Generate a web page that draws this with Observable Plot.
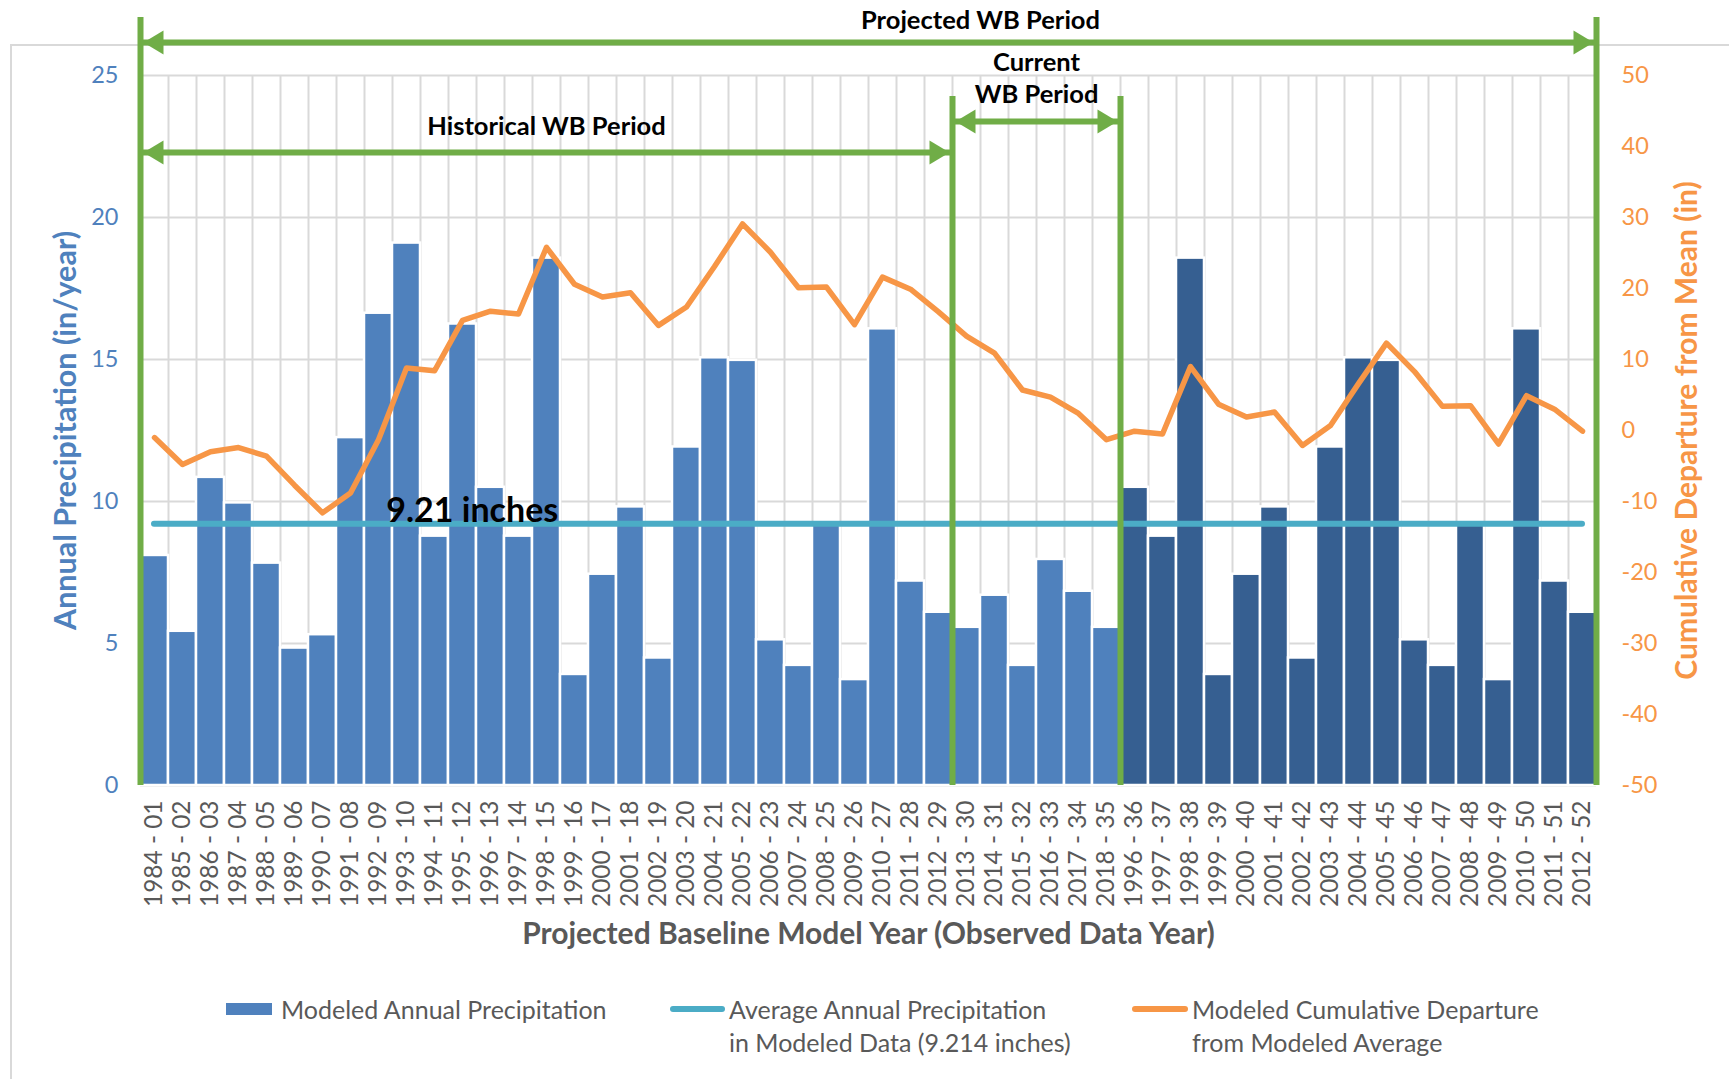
<!DOCTYPE html>
<html>
<head>
<meta charset="utf-8">
<script src="https://cdn.jsdelivr.net/npm/d3@7"></script>
<script src="https://cdn.jsdelivr.net/npm/@observablehq/plot@0.6"></script>
<style>
  body { margin: 0; background: #fff; font-family: Lato, sans-serif; }
  #wrap { position: relative; width: 1729px; height: 1079px; overflow: hidden; }
  #frame { position: absolute; left: 10px; top: 44px; width: 1900px; height: 1200px;
           border-left: 2px solid #d9d9d9; border-top: 2px solid #d9d9d9; }
  #chart { position: absolute; left: 0; top: 0; }
  .lg-text { position: absolute; font-size: 25px; line-height: 33px; color: #595959; white-space: pre; }
  .lg-sw { position: absolute; }
</style>
</head>
<body>
<div id="wrap">
  <div id="frame"></div>
  <div id="chart"></div>
  <div id="legend"></div>
</div>
<script>
// ---------------- data ----------------
const categories = [
  "1984 - 01","1985 - 02","1986 - 03","1987 - 04","1988 - 05","1989 - 06","1990 - 07","1991 - 08",
  "1992 - 09","1993 - 10","1994 - 11","1995 - 12","1996 - 13","1997 - 14","1998 - 15","1999 - 16",
  "2000 - 17","2001 - 18","2002 - 19","2003 - 20","2004 - 21","2005 - 22","2006 - 23","2007 - 24",
  "2008 - 25","2009 - 26","2010 - 27","2011 - 28","2012 - 29","2013 - 30","2014 - 31","2015 - 32",
  "2016 - 33","2017 - 34","2018 - 35","1996 - 36","1997 - 37","1998 - 38","1999 - 39","2000 - 40",
  "2001 - 41","2002 - 42","2003 - 43","2004 - 44","2005 - 45","2006 - 46","2007 - 47","2008 - 48",
  "2009 - 49","2010 - 50","2011 - 51","2012 - 52"
];

// Modeled annual precipitation (in/year)
const precip = [
  8.10, 5.43, 10.85, 9.95, 7.83, 4.84, 5.31, 12.25, 16.63, 19.10,
  8.78, 16.25, 10.50, 8.78, 18.57, 3.91, 7.44, 9.81, 4.49, 11.92,
  15.06, 14.97, 5.13, 4.23, 9.20, 3.73, 16.08, 7.20, 6.10,
  5.57, 6.70, 4.23, 7.96, 6.84, 5.57,
  10.50, 8.78, 18.57, 3.91, 7.44, 9.81, 4.49, 11.92, 15.06, 14.97,
  5.13, 4.23, 9.20, 3.73, 16.08, 7.20, 6.10
];

// Modeled cumulative departure from modeled average (in)
const departure = [
  -1.0, -4.8, -3.0, -2.4, -3.6, -7.7, -11.6, -8.8, -1.3, 8.8,
  8.4, 15.5, 16.8, 16.4, 25.8, 20.6, 18.8, 19.4, 14.8, 17.4,
  23.1, 29.1, 25.1, 20.1, 20.2, 14.9, 21.6, 19.9, 16.7, 13.3,
  10.9, 5.7, 4.7, 2.4, -1.3, -0.1, -0.5, 9.0, 3.7, 1.9,
  2.6, -2.1, 0.7, 6.6, 12.3, 8.3, 3.4, 3.5, -1.9, 4.9,
  3.0, -0.1
];

const avgPrecip = 9.214;

// Periods, in category index boundaries
const periodNames = ["Historical WB Period", "Current WB Period", "Projected WB Period"];
const periodStart = [0, 29, 0];
const periodEnd = [29, 35, 52];

const leftTicks = [0, 5, 10, 15, 20, 25];
const rightTicks = [-50, -40, -30, -20, -10, 0, 10, 20, 30, 40, 50];

const legendLabels = [
  "Modeled Annual Precipitation",
  "Average Annual Precipitation\nin Modeled Data (9.214 inches)",
  "Modeled Cumulative Departure\nfrom Modeled Average"
];

const axisTitleLeft = "Annual Precipitation (in/year)";
const axisTitleRight = "Cumulative Departure from Mean (in)";
const axisTitleX = "Projected Baseline Model Year (Observed Data Year)";

// ---------------- styling ----------------
const C_LIGHT = "#4F81BD", C_DARK = "#365F91", C_AVG = "#4BACC6", C_DEP = "#F79646",
      C_GREEN = "#70AD47", C_GRID = "#D9D9D9", C_TEXT = "#595959";

// right axis (departure) mapped onto the left scale: -50..50 -> 0..25
const toLeft = v => (v + 50) / 4;
const fromLeft = v => v * 4 - 50;

const rows = categories.map((c, i) => ({
  cat: c, i, precip: precip[i], dep: departure[i],
  projected: i >= periodEnd[1]
}));

const periods = periodNames.map((name, k) => ({name, start: periodStart[k], end: periodEnd[k]}));
const arrowLevel = {"Historical WB Period": 22.29, "Current WB Period": 23.38, "Projected WB Period": 26.16};

const edgeSet = Array.from(new Set(periods.flatMap(p => [p.start, p.end]))).sort((a, b) => a - b);
const nCat = categories.length;
const edges = edgeSet.map(x => ({x, top: (x === 0 || x === nCat) ? 27.04 : 24.26}));

const headRight = {draw(ctx) { ctx.moveTo(0, 0); ctx.lineTo(-20, -12); ctx.lineTo(-20, 12); ctx.closePath(); }};
const headLeft  = {draw(ctx) { ctx.moveTo(0, 0); ctx.lineTo(20, -12); ctx.lineTo(20, 12); ctx.closePath(); }};

const labelPos = {
  "Historical WB Period": {text: "Historical WB Period", x: (periodStart[0] + periodEnd[0]) / 2, y: 23.28},
  "Current WB Period": {text: "Current\nWB Period", x: (periodStart[1] + periodEnd[1]) / 2, y: 24.97},
  "Projected WB Period": {text: "Projected WB Period", x: 30, y: 27.02}
};

const plot = Plot.plot({
  width: 1729,
  height: 965,
  marginLeft: 140,
  marginRight: 133,
  marginTop: 75,
  marginBottom: 180,
  x: {type: "linear", domain: [0, nCat]},
  y: {domain: [0, 25]},
  style: {fontFamily: "Lato, sans-serif", background: "transparent", overflow: "visible"},
  marks: [
    Plot.gridY({ticks: leftTicks, stroke: C_GRID, strokeOpacity: 1, strokeWidth: 2}),
    Plot.gridX({ticks: d3.range(0, nCat + 1), stroke: C_GRID, strokeOpacity: 1, strokeWidth: 2}),
    Plot.rectY(rows, {
      x1: d => d.i, x2: d => d.i + 1, y: "precip",
      fill: d => d.projected ? C_DARK : C_LIGHT,
      stroke: "white", strokeWidth: 2.5
    }),
    Plot.ruleY([avgPrecip], {
      x1: 0.5, x2: nCat - 0.5, stroke: C_AVG, strokeWidth: 6, strokeLinecap: "round"
    }),
    Plot.text([avgPrecip], {
      x: 11.85, y: d => d, text: d => `${d.toFixed(2)} inches`,
      lineAnchor: "bottom", dy: -2, fontSize: 34, fontWeight: "bold", fill: "black"
    }),
    Plot.line(rows, {
      x: d => d.i + 0.5, y: d => toLeft(d.dep),
      stroke: C_DEP, strokeWidth: 5.5, strokeLinejoin: "round", strokeLinecap: "round"
    }),
    Plot.ruleX(edges, {x: "x", y1: 0, y2: "top", stroke: C_GREEN, strokeWidth: 6}),
    Plot.link(periods, {
      x1: "start", x2: "end", y1: d => arrowLevel[d.name], y2: d => arrowLevel[d.name],
      stroke: C_GREEN, strokeWidth: 6
    }),
    Plot.dot(periods, {x: "start", y: d => arrowLevel[d.name], symbol: headLeft, fill: C_GREEN, stroke: "none", dx: 3}),
    Plot.dot(periods, {x: "end", y: d => arrowLevel[d.name], symbol: headRight, fill: C_GREEN, stroke: "none", dx: -3}),
    Plot.text(periods, {
      x: d => labelPos[d.name].x, y: d => labelPos[d.name].y, text: d => labelPos[d.name].text,
      fontSize: 25.5, fontWeight: "bold", fill: "black", lineHeight: 1.27
    }),
    Plot.axisX({
      ticks: rows.map(d => d.i + 0.5),
      tickFormat: v => categories[Math.round(v - 0.5)],
      tickRotate: -90, tickSize: 0, tickPadding: 15, fontSize: 24.4, fill: C_TEXT, label: null
    }),
    Plot.axisY({
      ticks: leftTicks, anchor: "left", tickSize: 0, tickPadding: 22,
      fontSize: 23.5, fill: C_LIGHT, label: null
    }),
    Plot.axisY({
      ticks: rightTicks.map(toLeft), anchor: "right", tickSize: 0, tickPadding: 25,
      tickFormat: v => String(Math.round(fromLeft(v))),
      fontSize: 23.5, fill: C_DEP, label: null
    }),
    Plot.text([axisTitleLeft], {
      frameAnchor: "left", dx: -74, rotate: -90, text: d => d, textAnchor: "middle", lineAnchor: "middle",
      fontSize: 30.5, fontWeight: "bold", fill: C_LIGHT
    }),
    Plot.text([axisTitleRight], {
      frameAnchor: "right", dx: 91, rotate: -90, text: d => d, textAnchor: "middle", lineAnchor: "middle",
      fontSize: 30, fontWeight: "bold", fill: C_DEP
    }),
    Plot.text([axisTitleX], {
      frameAnchor: "bottom", dy: 149, text: d => d, textAnchor: "middle", lineAnchor: "middle",
      fontSize: 30, fontWeight: "bold", fill: C_TEXT
    })
  ]
});
document.getElementById("chart").append(plot);

// ---------------- legend ----------------
const legendColors = [C_LIGHT, C_AVG, C_DEP];
const legendKinds = ["rect", "line", "line"];
const legendSwatchLeft = [226, 670, 1132];
const legendSwatchWidth = [46, 55, 56];
const legendTextLeft = [281, 729, 1192];
const legend = d3.select("#legend");
legendLabels.forEach((label, k) => {
  const isRect = legendKinds[k] === "rect";
  legend.append("div").attr("class", "lg-sw")
    .style("left", legendSwatchLeft[k] + "px")
    .style("top", (isRect ? 1003 : 1006) + "px")
    .style("width", legendSwatchWidth[k] + "px")
    .style("height", (isRect ? 12 : 6) + "px")
    .style("border-radius", isRect ? "0" : "3px")
    .style("background", legendColors[k]);
  legend.append("div").attr("class", "lg-text")
    .style("left", legendTextLeft[k] + "px")
    .style("top", "992.5px")
    .text(label);
});
</script>
</body>
</html>
